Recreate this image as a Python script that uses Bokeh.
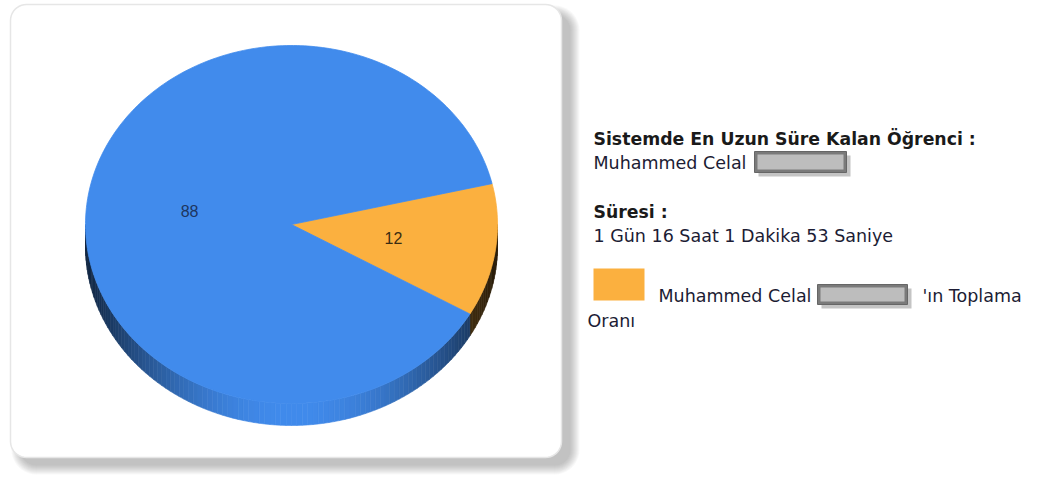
import math
from bokeh.plotting import figure
from bokeh.models import Range1d
from bokeh.core.properties import value
from bokeh.embed import file_html
from bokeh.resources import INLINE

# ---- data ----
slice_names = ["Muhammed Celal", "Diğer"]
slice_values = [12, 88]
slice_colors = [(251, 176, 63), (65, 139, 236)]
label_colors = ["#3a2c12", "#1d3660"]

title1 = "Sistemde En Uzun Süre Kalan Öğrenci :"
name1 = "Muhammed Celal"
title2 = "Süresi :"
duration = "1 Gün 16 Saat 1 Dakika 53 Saniye"
legend_a = "Muhammed Celal"
legend_b = "'ın Toplama"
legend_c = "Oranı"

# ---- figure ----
W, H = 1035, 475
p = figure(width=W, height=H, x_range=Range1d(0, W), y_range=Range1d(H, 0),
           x_axis_type=None, y_axis_type=None, output_backend="svg",
           toolbar_location=None, min_border=0)
p.grid.visible = False
p.outline_line_color = None
p.background_fill_color = "white"
p.border_fill_color = "white"


def rrect(x0, y0, x1, y1, r, n=10):
    xs, ys = [], []
    corners = [(x1 - r, y0 + r, -90, 0), (x1 - r, y1 - r, 0, 90),
               (x0 + r, y1 - r, 90, 180), (x0 + r, y0 + r, 180, 270)]
    for cx, cy, a0, a1 in corners:
        for i in range(n + 1):
            a = math.radians(a0 + (a1 - a0) * i / n)
            xs.append(cx + r * math.cos(a))
            ys.append(cy + r * math.sin(a))
    return xs, ys


# ---- panel with shadow ----
for i in range(10):
    g = i * 1.0
    xs, ys = rrect(14 + 6 - g, 8 + 6 - g, 563 + 7 + g, 458 + 7 + g, 16 + g)
    p.patch(xs, ys, fill_color="#606060", fill_alpha=0.045, line_color=None)
xs, ys = rrect(10, 4, 561, 457, 16)
p.patch(xs, ys, fill_color="white", line_color="#e6e6e6", line_width=1.5)

# ---- pie ----
cx, cy, rx, ry, depth = 291, 224, 206, 179, 22
start = -30.0
total = float(sum(slice_values))


def pt(t, dy=0.0):
    r = math.radians(t)
    return cx + rx * math.cos(r), cy - ry * math.sin(r) + dy


def shade(rgb, t, k=1.0):
    s = -math.sin(math.radians(t))
    b = (0.28 + 0.72 * max(s, 0) ** 2.2) * k
    return "#%02x%02x%02x" % tuple(min(255, int(c * b)) for c in rgb)


angles = []
a = start
for v in slice_values:
    a1 = a + 360.0 * v / total
    angles.append((a, a1))
    a = a1

# side strips
sx, sy, sc = [], [], []
for (a0, a1), col, nm in zip(angles, slice_colors, slice_names):
    k = 0.6 if col[0] > 200 else 1.0
    for off in (-360, 0, 360):
        lo = max(a0 + off, 180)
        hi = min(a1 + off, 360)
        if hi <= lo:
            continue
        n = max(1, int((hi - lo) / 1.5))
        for i in range(n):
            t0 = lo + (hi - lo) * i / n
            t1 = lo + (hi - lo) * (i + 1) / n
            x0, y0 = pt(t0)
            x1, y1 = pt(t1)
            sx.append([x0, x1, x1, x0])
            sy.append([y0, y1, y1 + depth, y0 + depth])
            sc.append(shade(col, (t0 + t1) / 2, k))
p.patches(sx, sy, fill_color=sc, line_color=sc, line_width=0.6)

# top faces
for (a0, a1), col in zip(angles, slice_colors):
    n = max(2, int(a1 - a0))
    xs, ys = [cx], [cy]
    for i in range(n + 1):
        x, y = pt(a0 + (a1 - a0) * i / n)
        xs.append(x)
        ys.append(y)
    c = "#%02x%02x%02x" % col
    p.patch(xs, ys, fill_color=c, line_color=c, line_width=0.8)

# labels
lx, ly, lt = [], [], []
for (a0, a1), v in zip(angles, slice_values):
    m = math.radians((a0 + a1) / 2)
    lx.append(cx + 0.5 * rx * math.cos(m))
    ly.append(cy - 0.5 * ry * math.sin(m))
    lt.append(str(v))
p.text(lx, ly, text=lt, text_color=label_colors, text_font=value("Liberation Sans"),
       text_font_size="16px", text_align="center", text_baseline="middle")

# ---- right-side info ----
F = value("DejaVu Sans")
FS = "17.5px"
p.text([593], [138], text=[title1], text_font=F, text_font_style="bold",
       text_font_size="17.3px", text_color="#1a1a1a", text_baseline="middle")
p.text([593], [162], text=[name1], text_font=F, text_font_size=FS,
       text_color="#1c1c34", text_baseline="middle")
p.text([593], [211], text=[title2], text_font=F, text_font_style="bold",
       text_font_size="17.3px", text_color="#1a1a1a", text_baseline="middle")
p.text([593], [235], text=[duration], text_font=F, text_font_size=FS,
       text_color="#1c1c34", text_baseline="middle")

# legend square
p.quad(left=[593], right=[644], top=[268], bottom=[300], fill_color="#fbb03f", line_color=None)
p.text([658], [295], text=[legend_a], text_font=F, text_font_size=FS,
       text_color="#1c1c34", text_baseline="middle")
p.text([922], [295], text=[legend_b], text_font=F, text_font_size=FS,
       text_color="#1c1c34", text_baseline="middle")
p.text([587], [320], text=[legend_c], text_font=F, text_font_size=FS,
       text_color="#1c1c34", text_baseline="middle")

# redaction boxes
for (x0, y0, x1, y1) in [(754, 151, 846, 172), (817, 284, 907, 304)]:
    p.quad(left=[x0 + 4], right=[x1 + 4], top=[y0 + 4], bottom=[y1 + 4],
           fill_color="#c4c4c4", line_color=None)
    p.quad(left=[x0], right=[x1], top=[y0], bottom=[y1],
           fill_color="#7a7a7a", line_color="#666666", line_width=1)
    p.quad(left=[x0 + 3], right=[x1 - 3], top=[y0 + 3], bottom=[y1 - 3],
           fill_color="#bdbdbd", line_color=None)

open("out.html", "w").write(file_html(p, INLINE))
